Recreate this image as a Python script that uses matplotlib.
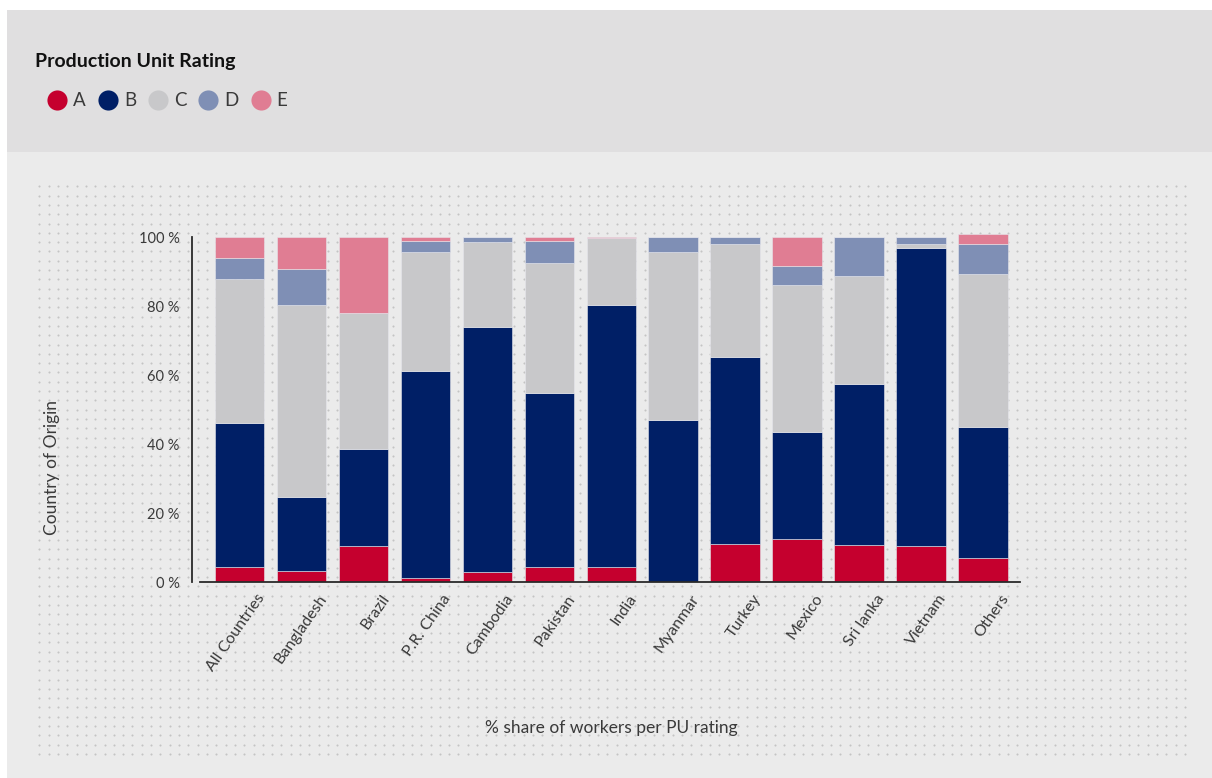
import matplotlib.pyplot as plt
import numpy as np
from matplotlib.lines import Line2D
from matplotlib.patches import Rectangle
from matplotlib.transforms import ScaledTranslation

countries = ["All Countries", "Bangladesh", "Brazil", "P.R. China", "Cambodia",
             "Pakistan", "India", "Myanmar", "Turkey", "Mexico", "Sri lanka",
             "Vietnam", "Others"]
rating_a = [4.4, 3.2, 10.4, 1.3, 3.0, 4.4, 4.4, 0.0, 10.9, 12.4, 10.7, 10.4, 6.9]
rating_b = [41.6, 21.3, 28.1, 60.0, 70.8, 50.5, 75.9, 47.0, 54.4, 31.1, 46.6, 86.4, 37.9]
rating_c = [41.7, 55.7, 39.4, 34.3, 24.8, 37.5, 19.3, 48.8, 32.6, 42.5, 31.5, 1.1, 44.4]
rating_d = [6.3, 10.4, 0.0, 3.3, 1.4, 6.5, 0.0, 4.2, 2.1, 5.7, 11.2, 2.1, 8.7]
rating_e = [6.0, 9.4, 22.1, 1.1, 0.0, 1.1, 0.4, 0.0, 0.0, 8.3, 0.0, 0.0, 3.0]
ratings = ["A", "B", "C", "D", "E"]
yticks = [0, 20, 40, 60, 80, 100]

colors = ["#c5002e", "#001f66", "#c8c8ca", "#7f8fb5", "#e07d93"]
txt = "#3a3a3a"
plt.rcParams['font.family'] = ['Lato', 'DejaVu Sans']

W, H = 1212, 778
fig = plt.figure(figsize=(W / 100, H / 100), dpi=100)
fig.patch.set_facecolor("white")

# background panels and dotted texture, in pixel coordinates
bg = fig.add_axes([0, 0, 1, 1], zorder=0)
bg.set_xlim(0, W)
bg.set_ylim(H, 0)
bg.axis("off")
bg.add_patch(Rectangle((7, 10), W - 7, 142, color="#e0dfe0", lw=0))
bg.add_patch(Rectangle((7, 152), W - 7, H - 152, color="#ebebeb", lw=0))
gx, gy = np.meshgrid(np.linspace(39.3, 1185, 124), np.linspace(186.3, 754, 62))
bg.scatter(gx.ravel(), gy.ravel(), s=2.2, color="#c4c4c4", lw=0)

# main chart
ax = fig.add_axes([192 / W, 1 - 582 / H, 828 / W, 355.3 / H], zorder=1)
ax.patch.set_alpha(0)
x = np.arange(len(countries))
bottom = np.zeros(len(countries))
for vals, col in zip([rating_a, rating_b, rating_c, rating_d, rating_e], colors):
    ax.bar(x, vals, bottom=bottom, width=0.8, color=col, edgecolor="#e6e6ec", linewidth=0.4)
    bottom += np.array(vals)

ax.set_xlim(-0.767, 12.596)
ax.set_ylim(0, 103)
for s in ["top", "right"]:
    ax.spines[s].set_visible(False)
ax.spines["left"].set_bounds(0, 100)
ax.spines["bottom"].set_bounds(-0.64, 12.6)
for s in ["left", "bottom"]:
    ax.spines[s].set_color("#2a2a2a")
    ax.spines[s].set_linewidth(1.3)

ax.set_yticks(yticks)
ax.set_yticklabels([f"{v} %" for v in yticks])
ax.tick_params(axis="y", length=0, pad=9, labelsize=10.5, labelcolor=txt)
ax.set_xticks(x)
ax.set_xticklabels(countries, rotation=55, ha="right", rotation_mode="anchor")
ax.tick_params(axis="x", length=0, pad=7, labelsize=11.5, labelcolor=txt)
shift = ScaledTranslation(0.17, 0, fig.dpi_scale_trans)
for lab in ax.get_xticklabels():
    lab.set_transform(lab.get_transform() + shift)

ax.set_ylabel("Country of Origin", fontsize=12.5, color=txt)
ax.yaxis.set_label_coords(-0.159, 0.321)
ax.set_xlabel("% share of workers per PU rating", fontsize=12.5, color=txt)
ax.xaxis.set_label_coords(0.506, -0.388)

# legend in the top banner
fig.text(35 / W, 1 - 62 / H, "Production Unit Rating", fontsize=14, fontweight="bold",
         color="#111111", va="center", ha="left")
handles = [Line2D([], [], marker="o", ls="", markersize=14.5, markerfacecolor=c,
                  markeredgewidth=0) for c in colors]
leg = fig.legend(handles, ratings, ncol=5, loc="center left",
                 bbox_to_anchor=(47 / W, 1 - 101 / H), frameon=False,
                 fontsize=13.5, handlelength=1.1, handletextpad=0.3,
                 columnspacing=0.62, borderaxespad=0, borderpad=0, labelcolor=txt)

fig.savefig("out.png", dpi=100)
